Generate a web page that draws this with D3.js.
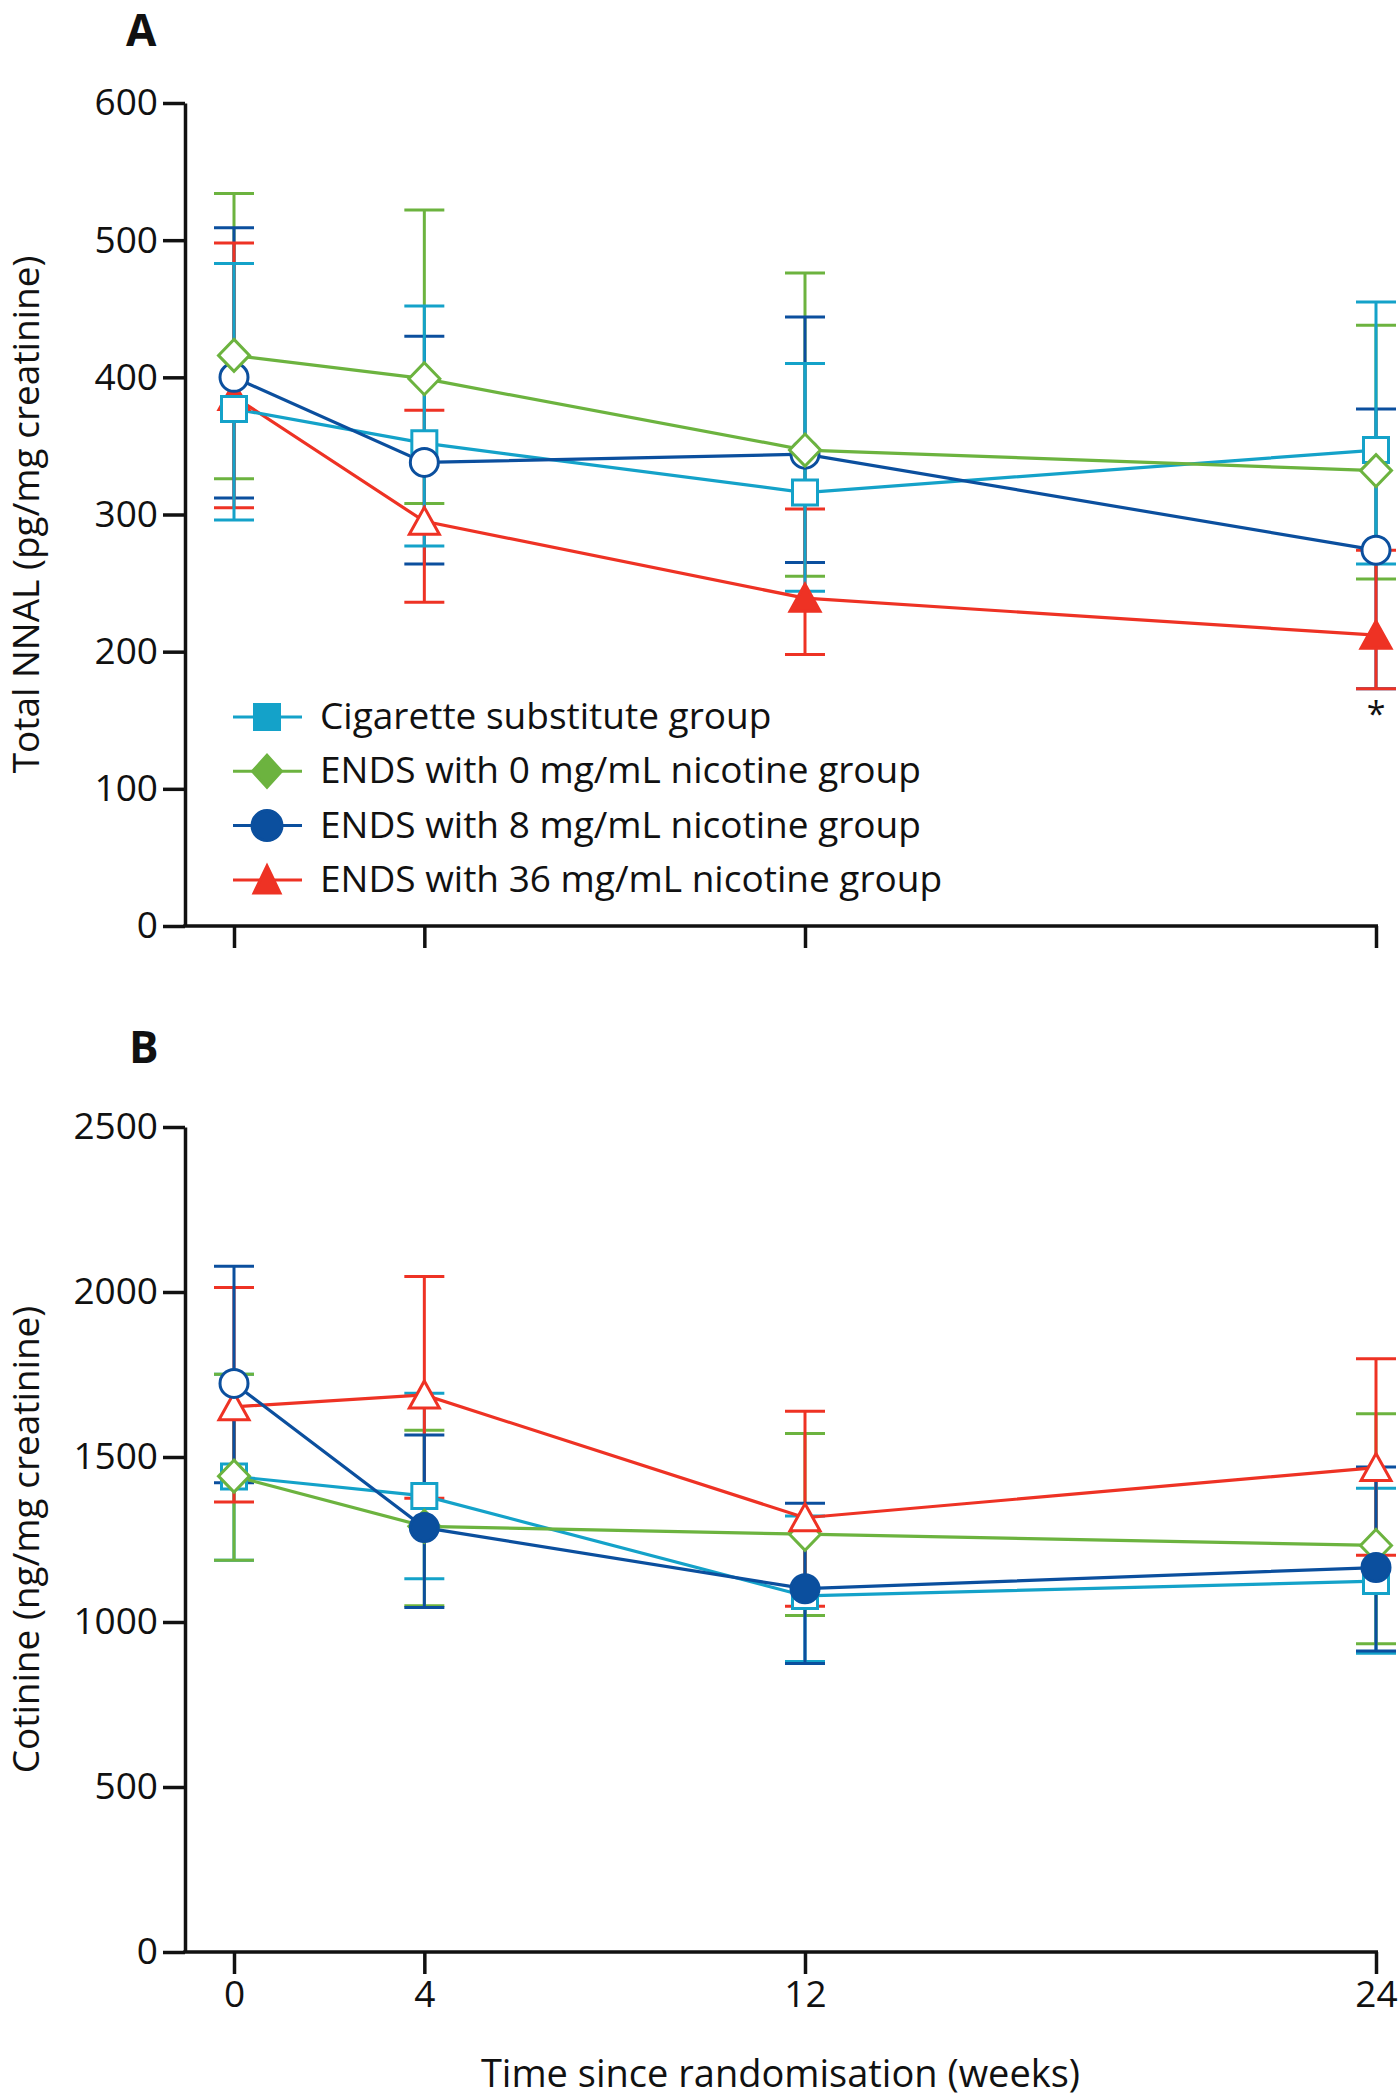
<!DOCTYPE html>
<html>
<head>
<meta charset="utf-8">
<script src="https://cdn.jsdelivr.net/npm/d3@7"></script>
<style>
  html, body { margin: 0; padding: 0; background: #ffffff; }
  svg text { font-family: "Open Sans", "Noto Sans", sans-serif; fill: #111; }
</style>
</head>
<body>
<svg id="chart" width="1399" height="2100"></svg>
<script>
// ---------------- DATA ----------------
const weeks = [0, 4, 12, 24];
const weekLabels = ["0", "4", "12", "24"];
const groupNames = [
  "Cigarette substitute group",
  "ENDS with 0 mg/mL nicotine group",
  "ENDS with 8 mg/mL nicotine group",
  "ENDS with 36 mg/mL nicotine group"
];
const groupKeys = ["cig", "ends0", "ends8", "ends36"];

// Panel A: total NNAL (pg/mg creatinine) — geometric mean and 95% CI
const nnalCigMean   = [377, 352, 316, 347];
const nnalCigLow    = [296, 277, 244, 264];
const nnalCigHigh   = [483, 452, 410, 455];
const nnalEnds0Mean = [416, 399, 347, 332];
const nnalEnds0Low  = [326, 308, 255, 253];
const nnalEnds0High = [534, 522, 476, 438];
const nnalEnds8Mean = [400, 338, 344, 274];
const nnalEnds8Low  = [312, 264, 265, 173];
const nnalEnds8High = [509, 430, 444, 377];
const nnalEnds36Mean = [386, 295, 239, 212];
const nnalEnds36Low  = [305, 236, 198, 173];
const nnalEnds36High = [498, 376, 304, 274];
const nnalEnds36Filled = [true, false, true, true];
const nnalTicks = [0, 100, 200, 300, 400, 500, 600];

// Panel B: cotinine (ng/mg creatinine)
const cotCigMean   = [1441, 1382, 1079, 1124];
const cotCigLow    = [1187, 1131, 880, 905];
const cotCigHigh   = [1751, 1693, 1321, 1405];
const cotEnds0Mean = [1442, 1290, 1266, 1232];
const cotEnds0Low  = [1187, 1049, 1020, 934];
const cotEnds0High = [1751, 1581, 1571, 1631];
const cotEnds8Mean = [1723, 1286, 1101, 1165];
const cotEnds8Low  = [1422, 1044, 874, 912];
const cotEnds8High = [2078, 1567, 1360, 1470];
const cotEnds8Filled = [false, true, true, true];
const cotEnds36Mean = [1652, 1688, 1316, 1468];
const cotEnds36Low  = [1364, 1375, 1048, 1202];
const cotEnds36High = [2014, 2047, 1639, 1798];
const cotTicks = [0, 500, 1000, 1500, 2000, 2500];

const noneFilled = [false, false, false, false];

// ---------------- STYLE ----------------
const colors = { cig: "#14a2c9", ends0: "#6cb33f", ends8: "#0b4f9e", ends36: "#ee3224" };
const FONT = 37;

const svg = d3.select("#chart");
const axisX = 185;                       // x position of y axis
const x = d3.scaleLinear().domain([0, 24]).range([234, 1376]);

const markerPath = {
  cig:    "M-12.5,-12.5h25v25h-25Z",
  ends0:  "M0,-16L15.5,0L0,16L-15.5,0Z",
  ends8:  null,
  ends36: "M0,-14L15,13L-15,13Z"
};
const legendPath = {
  cig:    "M-12.5,-12.5h25v25h-25Z",
  ends0:  "M0,-16L14.5,0L0,16L-14.5,0Z",
  ends8:  null,
  ends36: "M0,-14L13,13L-13,13Z"
};

function drawMarker(g, key, cx, cy, filled, paths, r) {
  const fill = filled ? colors[key] : "#ffffff";
  if (key === "ends8") {
    g.append("circle").attr("cx", cx).attr("cy", cy).attr("r", r)
      .attr("fill", fill).attr("stroke", colors[key]).attr("stroke-width", 3);
  } else {
    g.append("path").attr("d", paths[key])
      .attr("transform", `translate(${cx},${cy})`)
      .attr("fill", fill).attr("stroke", colors[key]).attr("stroke-width", 3)
      .attr("stroke-linejoin", "miter");
  }
}

function drawPanel(cfg) {
  const y = d3.scaleLinear().domain(cfg.domain).range(cfg.range);
  const g = svg.append("g");

  // y axis
  const yAxis = d3.axisLeft(y).tickValues(cfg.ticks).tickSize(22).tickSizeOuter(0).tickPadding(5)
    .tickFormat(d3.format("d"));
  const ya = g.append("g").attr("transform", `translate(${axisX},0)`).call(yAxis);
  ya.select(".domain").attr("stroke", "#111").attr("stroke-width", 3.5);
  ya.selectAll(".tick line").attr("stroke", "#111").attr("stroke-width", 3.5);
  ya.selectAll(".tick text").attr("font-size", FONT).attr("fill", "#111")
    .attr("font-family", "'Open Sans', sans-serif");

  // x axis
  const xAxis = d3.axisBottom(x).tickValues(weeks).tickSize(22).tickSizeOuter(0).tickPadding(7)
    .tickFormat((d, i) => cfg.showXLabels ? weekLabels[i] : "");
  const xa = g.append("g").attr("transform", `translate(0,${y(0)})`).call(xAxis);
  xa.select(".domain").remove();
  xa.selectAll(".tick line").attr("stroke", "#111").attr("stroke-width", 3.5);
  xa.selectAll(".tick text").attr("font-size", FONT).attr("fill", "#111")
    .attr("font-family", "'Open Sans', sans-serif");
  g.append("line").attr("x1", axisX - 1.75).attr("x2", x.range()[1] + 2)
    .attr("y1", y(0)).attr("y2", y(0)).attr("stroke", "#111").attr("stroke-width", 3.5);

  // y axis title
  g.append("text")
    .attr("transform", `translate(39,${(y.range()[0] + y.range()[1]) / 2}) rotate(-90)`)
    .attr("text-anchor", "middle").attr("font-size", 37).text(cfg.yTitle);

  // panel letter
  g.append("text").attr("x", cfg.letterX).attr("y", cfg.letterY)
    .attr("font-size", 44).attr("font-weight", 700)
    .attr("font-family", "'Liberation Sans', Arial, sans-serif").text(cfg.letter);

  const layer = g.append("g");
  // error bars
  cfg.errOrder.forEach(k => {
    const s = cfg.series[k];
    weeks.forEach((w, i) => {
      const cx = x(w);
      layer.append("line").attr("x1", cx).attr("x2", cx)
        .attr("y1", y(s.low[i])).attr("y2", y(s.high[i]))
        .attr("stroke", colors[k]).attr("stroke-width", 3);
      [s.low[i], s.high[i]].forEach(v => {
        layer.append("line").attr("x1", cx - 20).attr("x2", cx + 20)
          .attr("y1", y(v)).attr("y2", y(v))
          .attr("stroke", colors[k]).attr("stroke-width", 3);
      });
    });
  });
  // connecting lines
  const line = d3.line().x((d, i) => x(weeks[i])).y(d => y(d));
  cfg.lineOrder.forEach(k => {
    layer.append("path").datum(cfg.series[k].mean).attr("d", line)
      .attr("fill", "none").attr("stroke", colors[k]).attr("stroke-width", 3.2);
  });
  // markers
  cfg.markerOrder.forEach(k => {
    const s = cfg.series[k];
    weeks.forEach((w, i) => drawMarker(layer, k, x(w), y(s.mean[i]), s.filled[i], markerPath, 14));
  });
  return { g, y };
}

// Panel A
const pA = drawPanel({
  domain: [0, 600], range: [926, 103], ticks: nnalTicks,
  yTitle: "Total NNAL (pg/mg creatinine)", letter: "A", letterX: 126, letterY: 46,
  showXLabels: false,
  series: {
    cig:    { mean: nnalCigMean, low: nnalCigLow, high: nnalCigHigh, filled: noneFilled },
    ends0:  { mean: nnalEnds0Mean, low: nnalEnds0Low, high: nnalEnds0High, filled: noneFilled },
    ends8:  { mean: nnalEnds8Mean, low: nnalEnds8Low, high: nnalEnds8High, filled: noneFilled },
    ends36: { mean: nnalEnds36Mean, low: nnalEnds36Low, high: nnalEnds36High, filled: nnalEnds36Filled }
  },
  errOrder: ["ends0", "ends8", "ends36", "cig"],
  lineOrder: ["ends36", "cig", "ends8", "ends0"],
  markerOrder: ["ends36", "cig", "ends8", "ends0"]
});

// asterisk under 24-week red CI
pA.g.append("text").attr("x", x(24)).attr("y", pA.y(nnalEnds36Low[3]) + 37)
  .attr("text-anchor", "middle").attr("font-size", 34).text("*");

// legend in panel A
const legend = pA.g.append("g");
groupKeys.forEach((k, i) => {
  const ly = 717 + i * 54.3;
  legend.append("line").attr("x1", 233).attr("x2", 302).attr("y1", ly).attr("y2", ly)
    .attr("stroke", colors[k]).attr("stroke-width", 3);
  drawMarker(legend, k, 267, ly, true, legendPath, 15);
  legend.append("text").attr("x", 320).attr("y", ly + 12).attr("font-size", FONT).text(groupNames[i]);
});

// Panel B
drawPanel({
  domain: [0, 2500], range: [1952, 1127], ticks: cotTicks,
  yTitle: "Cotinine (ng/mg creatinine)", letter: "B", letterX: 129, letterY: 1063,
  showXLabels: true,
  series: {
    cig:    { mean: cotCigMean, low: cotCigLow, high: cotCigHigh, filled: noneFilled },
    ends0:  { mean: cotEnds0Mean, low: cotEnds0Low, high: cotEnds0High, filled: noneFilled },
    ends8:  { mean: cotEnds8Mean, low: cotEnds8Low, high: cotEnds8High, filled: cotEnds8Filled },
    ends36: { mean: cotEnds36Mean, low: cotEnds36Low, high: cotEnds36High, filled: noneFilled }
  },
  errOrder: ["cig", "ends0", "ends36", "ends8"],
  lineOrder: ["cig", "ends0", "ends36", "ends8"],
  markerOrder: ["cig", "ends0", "ends36", "ends8"]
});

// x axis title
svg.append("text").attr("x", (axisX + x.range()[1]) / 2).attr("y", 2087)
  .attr("text-anchor", "middle").attr("font-size", 38).text("Time since randomisation (weeks)");
</script>
</body>
</html>
